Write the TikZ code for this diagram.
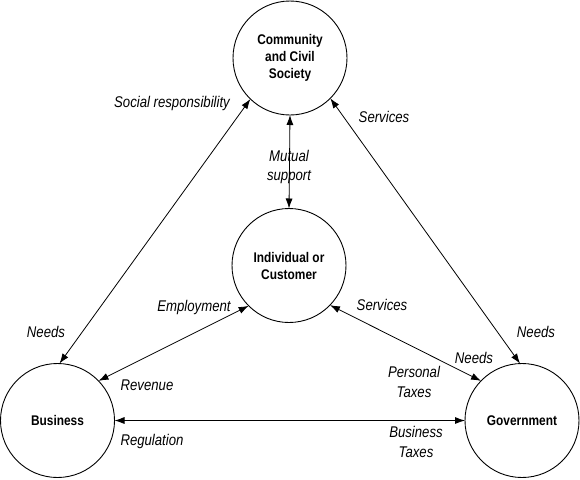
\documentclass[tikz,border=0pt]{standalone}
\usepackage{fontspec}
\setmainfont{Liberation Sans}[FakeStretch=0.85]
\usetikzlibrary{arrows.meta}
\begin{document}
\begin{tikzpicture}[x=1pt,y=-1pt,
  entity/.style={draw, circle, minimum size=114pt, inner sep=0pt, outer sep=0pt, line width=0.9pt,
    font=\fontsize{14}{17}\selectfont\bfseries, align=center},
  lbl/.style={font=\fontsize{15.5}{19.5}\selectfont\itshape, align=center, inner sep=0pt},
  flow/.style={line width=0.8pt, {Latex[length=10pt,width=7pt]}-{Latex[length=10pt,width=7pt]}}]
\useasboundingbox (0,0) rectangle (580,479);
\node[entity] (comm) at (290,58) {Community\\and Civil\\Society};
\node[entity] (ind) at (289,265.5) {Individual or\\Customer};
\node[entity] (bus) at (57.5,420.5) {Business};
\node[entity] (gov) at (522,420.5) {Government};
\draw[flow] (comm.226) -- (bus.88);
\draw[flow] (comm.315) -- (gov.92);
\draw[flow] (comm.270) -- (ind.90);
\draw[flow] (ind.225) -- (bus.44);
\draw[flow] (ind.316) -- (gov.136);
\draw[flow] (bus.0) -- (gov.180);
\node[lbl] (l1) at (172,103) {Social responsibility};
\node[lbl] (l2) at (384,117) {Services};
\node[lbl] (l3) at (289,167) {Mutual\\support};
\node[lbl] (l4) at (46,332) {Needs};
\node[lbl] (l5) at (194,307) {Employment};
\node[lbl] (l6) at (147,385) {Revenue};
\node[lbl] (l7) at (152,441) {Regulation};
\node[lbl] (l8) at (382,305) {Services};
\node[lbl] (l9) at (536,332) {Needs};
\node[lbl] (l10) at (474,358) {Needs};
\node[lbl] (l11) at (414,382) {Personal\\Taxes};
\node[lbl] (l12) at (416,442) {Business\\Taxes};
\end{tikzpicture}
\end{document}
